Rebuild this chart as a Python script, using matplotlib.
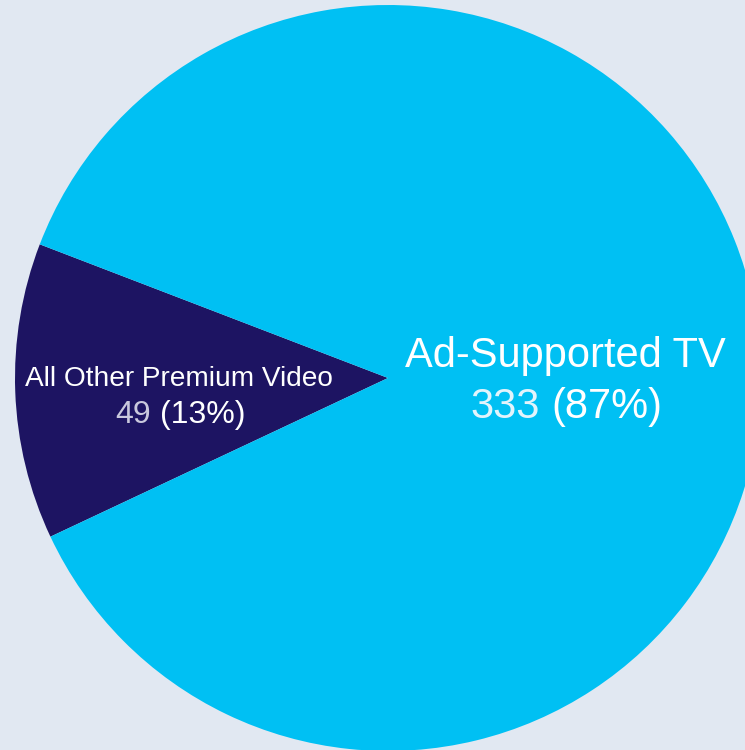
import matplotlib
matplotlib.use("Agg")
import matplotlib.pyplot as plt

# Data
categories = ["All Other Premium Video", "Ad-Supported TV"]
values = [49, 333]
colors = ["#1D1462", "#00C0F3"]

W, H = 745, 750
BG = "#E1E8F2"

fig = plt.figure(figsize=(W / 100, H / 100), dpi=100, facecolor=BG)
ax = fig.add_axes([0, 0, 1, 1])
ax.set_facecolor(BG)
ax.set_xlim(0, W)
ax.set_ylim(0, H)
ax.set_aspect("equal")
ax.axis("off")

cx, cy, r = 388, H - 378, 373
ax.pie(values, colors=colors, startangle=159, counterclock=True,
       center=(cx, cy), radius=r, frame=True,
       wedgeprops=dict(linewidth=0))
ax.set_xlim(0, W)
ax.set_ylim(0, H)
ax.axis("off")

total = sum(values)
FONT = "Liberation Sans"

fig.canvas.draw()
renderer = fig.canvas.get_renderer()


def text_width(s, size):
    t = ax.text(0, 0, s, fontsize=size, family=FONT)
    w = t.get_window_extent(renderer).width
    t.remove()
    return w


def mixed_line(xc, y_px, num, pct, size, num_color, pct_color):
    w_num = text_width(num, size)
    w_sp = text_width("3 3", size) - text_width("33", size)
    w_pct = text_width(pct, size)
    total_w = w_num + w_sp + w_pct
    x0 = xc - total_w / 2
    y = H - y_px
    ax.text(x0, y, num, fontsize=size, family=FONT, color=num_color,
            ha="left", va="baseline")
    ax.text(x0 + w_num + w_sp, y, pct, fontsize=size, family=FONT,
            color=pct_color, ha="left", va="baseline")


# Ad-Supported TV label
ax.text(565, H - 367, categories[1], fontsize=30, family=FONT, color="white",
        ha="center", va="baseline")
mixed_line(566, 418, str(values[1]), f"({round(values[1] / total * 100)}%)",
           30, "#E2F4FC", "white")

# All Other Premium Video label
ax.text(179, H - 386, categories[0], fontsize=20.2, family=FONT, color="white",
        ha="center", va="baseline")
mixed_line(180, 423, str(values[0]), f"({round(values[0] / total * 100)}%)",
           23, "#C9C8DD", "white")

fig.savefig("out.png", dpi=100, facecolor=BG)
